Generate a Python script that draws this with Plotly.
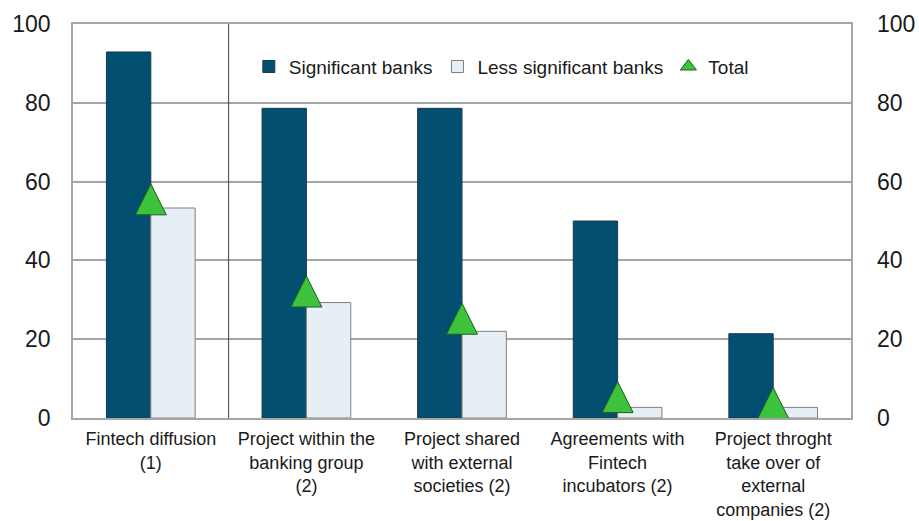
import plotly.graph_objects as go

# Survey results (% of banks)
categories = [
    "Fintech diffusion<br>(1)",
    "Project within the<br>banking group<br>(2)",
    "Project shared<br>with external<br>societies (2)",
    "Agreements with<br>Fintech<br>incubators (2)",
    "Project throght<br>take over of<br>external<br>companies (2)",
]
significant = [92.9, 78.6, 78.6, 50.0, 21.4]
less_significant = [53.3, 29.3, 22.0, 2.7, 2.7]
total = [55.5, 32.1, 25.2, 5.3, 3.8]
y_ticks = [0, 20, 40, 60, 80, 100]

FONT = "Arial, Liberation Sans, sans-serif"
TEXT = "#1a1a1a"
GRID = "#a6a6a6"
GREEN = "#3cc23c"
GREEN_EDGE = "#1f5c1f"
TRI = 31  # triangle marker size (px)

fig = go.Figure()
fig.add_trace(go.Bar(
    x=categories, y=significant, name="Significant banks",
    marker=dict(color="#034f72", line=dict(color="#1c3a4d", width=1)),
))
fig.add_trace(go.Bar(
    x=categories, y=less_significant, name="Less significant banks",
    marker=dict(color="#e6eef6", line=dict(color="#7f7f7f", width=1)),
))
# upright triangle centred on the value: arrow-down flipped, shifted by half its height
fig.add_trace(go.Scatter(
    x=categories, y=total, name="Total", mode="markers", showlegend=False,
    marker=dict(symbol="arrow-down", angle=180, standoff=TRI / 2, size=TRI,
                color=GREEN, line=dict(color=GREEN_EDGE, width=1)),
))
# legend key for the triangles
fig.add_trace(go.Scatter(
    x=[None], y=[None], name="Total", mode="markers",
    marker=dict(symbol="triangle-up", size=14, color=GREEN,
                line=dict(color=GREEN_EDGE, width=1)),
))
# mirror axis on the right
fig.add_trace(go.Scatter(
    x=categories, y=total, yaxis="y2", mode="markers",
    marker=dict(opacity=0), showlegend=False, hoverinfo="skip",
))

# separator between the first category and the rest
fig.add_shape(type="line", xref="x", yref="y domain", x0=0.5, x1=0.5, y0=0, y1=1,
              line=dict(color="#404040", width=1))

fig.update_layout(
    width=919, height=521,
    margin=dict(l=73, r=68, t=24, b=103),
    paper_bgcolor="white", plot_bgcolor="white",
    font=dict(family=FONT, color=TEXT, size=19),
    barmode="group", bargap=0.43, bargroupgap=0,
    showlegend=True,
    legend=dict(
        orientation="h", x=0.226, xanchor="left", y=0.94, yanchor="top",
        bgcolor="rgba(0,0,0,0)", font=dict(size=19, color=TEXT),
    ),
    xaxis=dict(
        showgrid=False, showline=True, linecolor=GRID, linewidth=1.5, mirror=True,
        tickfont=dict(size=18, color=TEXT), ticks="", ticklabelstandoff=4,
        automargin=False,
    ),
    yaxis=dict(
        range=[0, 100], tickvals=y_ticks, showgrid=True, gridcolor=GRID, gridwidth=1.5,
        showline=True, linecolor=GRID, linewidth=1.5, mirror=True, zeroline=False,
        tickfont=dict(size=23, color=TEXT), ticks="", ticklabelstandoff=16,
        automargin=False,
    ),
    yaxis2=dict(
        overlaying="y", side="right", range=[0, 100], tickvals=y_ticks,
        showgrid=False, zeroline=False, showline=False,
        tickfont=dict(size=23, color=TEXT), ticks="", ticklabelstandoff=25,
        automargin=False,
    ),
)

fig.write_html("out.html")
